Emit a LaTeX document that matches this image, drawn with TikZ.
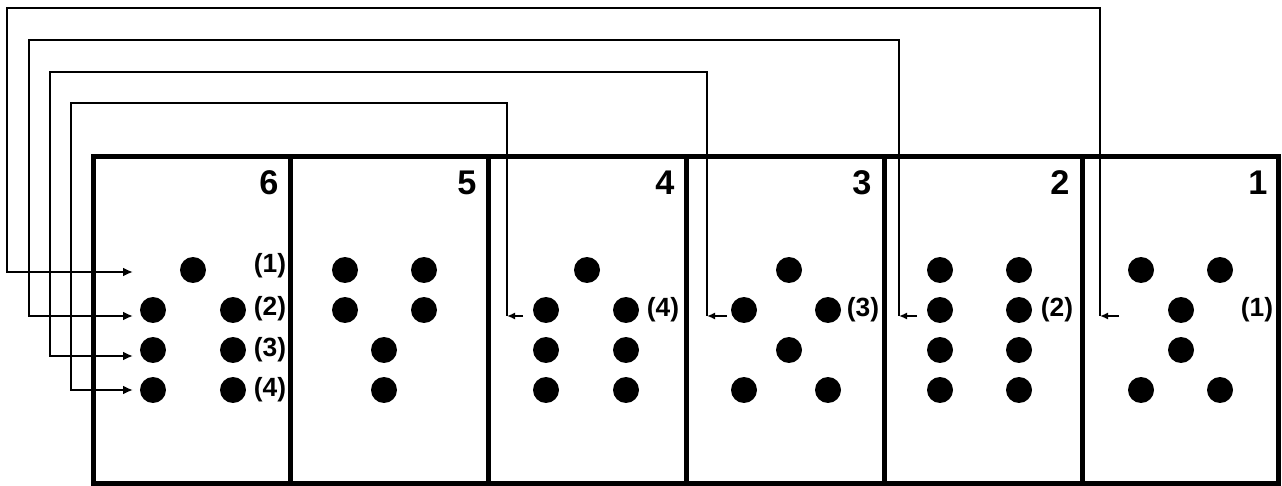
\documentclass[tikz,border=0pt]{standalone}
\usepackage{fontspec}
\setmainfont{Liberation Sans}
\usetikzlibrary{arrows.meta}
\begin{document}
\begin{tikzpicture}
  [x=0.02cm, y=-0.02cm,
   frame/.style={line width=0.1cm},
   dot/.style={circle, fill=black, inner sep=0pt, minimum size=0.52cm},
   panelnum/.style={font=\bfseries\fontsize{19.5}{19.5}\selectfont, inner sep=0pt},
   rowlabel/.style={font=\bfseries\fontsize{15}{15}\selectfont, inner sep=0pt},
   link/.style={line width=0.04cm, -{Latex[length=0.2cm, width=0.18cm]}},
   stub/.style={line width=0.04cm, -{Latex[length=0.16cm, width=0.14cm]}}]
  \useasboundingbox (0,0) rectangle (1282,486);
  % panels
  \draw[frame] (93,157) rectangle (1278,483);
  \foreach \x in {290,488,686,884,1082}
    \draw[frame] (\x,157) -- (\x,483);
  \foreach \n/\x in {6/269,5/467,4/665,3/862,2/1060,1/1258}
    \node[panelnum] (n\n) at (\x,183) {\n};
  % dots
  \foreach \x/\y [count=\i] in {193/270,153/310,233/310,153/350,233/350,153/390,233/390,
      345/270,424/270,345/310,424/310,384/350,384/390,
      587/270,546/310,626/310,546/350,626/350,546/390,626/390,
      789/270,744/310,828/310,789/350,744/390,828/390,
      940/270,1019/270,940/310,1019/310,940/350,1019/350,940/390,1019/390,
      1141/270,1220/270,1181/310,1181/350,1141/390,1220/390}
    \node[dot] (d\i) at (\x,\y) {};
  % row labels
  \node[rowlabel] (r61) at (270,266) {(1)};
  \node[rowlabel] (r62) at (270,309) {(2)};
  \node[rowlabel] (r63) at (270,350) {(3)};
  \node[rowlabel] (r64) at (270,390) {(4)};
  \node[rowlabel] (r4) at (663,310) {(4)};
  \node[rowlabel] (r3) at (863,310) {(3)};
  \node[rowlabel] (r2) at (1057,310) {(2)};
  \node[rowlabel] (r1) at (1257,310) {(1)};
  % links
  \coordinate (s1) at (1119,316); \coordinate (c1) at (1100,316);
  \coordinate (h1) at (7,8);      \coordinate (t1) at (133,272);
  \coordinate (s2) at (917,316);  \coordinate (c2) at (899,316);
  \coordinate (h2) at (29,40);    \coordinate (t2) at (133,316);
  \coordinate (s3) at (727,316);  \coordinate (c3) at (707,316);
  \coordinate (h3) at (50,72);    \coordinate (t3) at (133,356);
  \coordinate (s4) at (523,316);  \coordinate (c4) at (507,316);
  \coordinate (h4) at (71,103);   \coordinate (t4) at (133,390);
  \foreach \k in {1,...,4} {
    \draw[stub] (s\k) -- (c\k);
    \draw[link] (c\k) |- (h\k) |- (t\k);
  }
\end{tikzpicture}
\end{document}
